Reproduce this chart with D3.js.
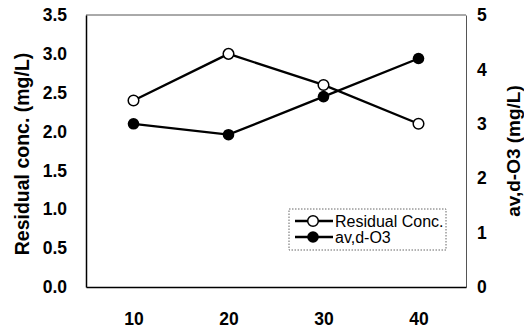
<!DOCTYPE html>
<html>
<head>
<meta charset="utf-8">
<script src="https://cdn.jsdelivr.net/npm/d3@7"></script>
<style>
  html, body { margin: 0; padding: 0; background: #fff; }
  svg { display: block; }
  text { font-family: "Liberation Sans", Arial, sans-serif; fill: #000; }
</style>
</head>
<body>
<svg id="chart" width="524" height="332"></svg>
<script>
// Sampling points (x axis)
const categories = [10, 20, 30, 40];
// Residual concentration, mg/L (left axis)
const residualConc = [2.4, 3.0, 2.6, 2.1];
// av,d-O3, mg/L (right axis)
const avdO3 = [3.0, 2.8, 3.5, 4.2];
// Axis tick values
const leftTicks = [0, 0.5, 1.0, 1.5, 2.0, 2.5, 3.0, 3.5];
const rightTicks = [0, 1, 2, 3, 4, 5];
const xTicks = [10, 20, 30, 40];
// Legend entries
const legendLabels = ["Residual Conc.", "av,d-O3"];

const svg = d3.select("#chart");
const plot = { left: 86, right: 466, top: 15, bottom: 287 };

const x = d3.scaleLinear().domain([5, 45]).range([plot.left, plot.right]);
const yL = d3.scaleLinear().domain([0, 3.5]).range([plot.bottom, plot.top]);
const yR = d3.scaleLinear().domain([0, 5]).range([plot.bottom, plot.top]);

// Frame: top and right edges light, left and bottom edges solid
svg.append("line").attr("x1", plot.left).attr("x2", plot.right)
  .attr("y1", plot.top).attr("y2", plot.top)
  .attr("stroke", "#555").attr("stroke-width", 1);

// Axes built with d3 axis generators, tick marks hidden
const leftAxis = d3.axisLeft(yL).tickValues(leftTicks)
  .tickFormat(d3.format(".1f")).tickSize(0).tickPadding(19);
const rightAxis = d3.axisRight(yR).tickValues(rightTicks)
  .tickFormat(d3.format("d")).tickSize(0).tickPadding(11);
const bottomAxis = d3.axisBottom(x).tickValues(xTicks)
  .tickFormat(d3.format("d")).tickSize(0).tickPadding(26);

function styleAxis(g, strokeColor, strokeWidth) {
  g.select(".domain").attr("stroke", strokeColor).attr("stroke-width", strokeWidth);
  g.selectAll("text")
    .style("font-family", '"Liberation Sans", Arial, sans-serif')
    .style("font-weight", "bold")
    .style("font-size", "17.5px")
    .attr("fill", "#000");
}

svg.append("g").attr("transform", `translate(${plot.right},0)`)
  .call(rightAxis).call(g => styleAxis(g, "#555", 1));
svg.append("g").attr("transform", `translate(${plot.left},0)`)
  .call(leftAxis).call(g => styleAxis(g, "#000", 1.5));
svg.append("g").attr("transform", `translate(0,${plot.bottom})`)
  .call(bottomAxis).call(g => styleAxis(g, "#000", 1.5));

// Axis titles
svg.append("text")
  .attr("transform", `translate(22,${(plot.top + plot.bottom) / 2 + 3}) rotate(-90)`)
  .attr("text-anchor", "middle").attr("dominant-baseline", "central")
  .style("font-weight", "bold").style("font-size", "19.5px")
  .text("Residual conc. (mg/L)");
svg.append("text")
  .attr("transform", `translate(513,${(plot.top + plot.bottom) / 2}) rotate(-90)`)
  .attr("text-anchor", "middle").attr("dominant-baseline", "central")
  .style("font-weight", "bold").style("font-size", "19px")
  .text("av,d-O3 (mg/L)");

// Series lines
const lineL = d3.line().x((d, i) => x(categories[i])).y(d => yL(d));
const lineR = d3.line().x((d, i) => x(categories[i])).y(d => yR(d));

svg.append("path").datum(avdO3).attr("d", lineR)
  .attr("fill", "none").attr("stroke", "#000").attr("stroke-width", 2.3);
svg.append("path").datum(residualConc).attr("d", lineL)
  .attr("fill", "none").attr("stroke", "#000").attr("stroke-width", 2.3);

// Markers
svg.append("g").selectAll("circle").data(avdO3).join("circle")
  .attr("cx", (d, i) => x(categories[i])).attr("cy", d => yR(d))
  .attr("r", 5.8).attr("fill", "#000");
svg.append("g").selectAll("circle").data(residualConc).join("circle")
  .attr("cx", (d, i) => x(categories[i])).attr("cy", d => yL(d))
  .attr("r", 5.3).attr("fill", "#fff").attr("stroke", "#000").attr("stroke-width", 1.5);

// Legend
const legend = svg.append("g").attr("transform", "translate(289,209)");
legend.append("rect").attr("x", 0).attr("y", 0).attr("width", 157).attr("height", 41)
  .attr("fill", "#fff").attr("stroke", "#666").attr("stroke-width", 1)
  .attr("stroke-dasharray", "1.5,1.5");
const rows = legend.selectAll("g.row").data(legendLabels).join("g")
  .attr("class", "row")
  .attr("transform", (d, i) => `translate(0,${12 + i * 16})`);
rows.append("line").attr("x1", 6).attr("x2", 44).attr("y1", 0).attr("y2", 0)
  .attr("stroke", "#000").attr("stroke-width", 2.3);
rows.append("circle").attr("cx", 24).attr("cy", 0)
  .attr("r", (d, i) => i === 0 ? 5.3 : 5.8)
  .attr("fill", (d, i) => i === 0 ? "#fff" : "#000")
  .attr("stroke", "#000").attr("stroke-width", (d, i) => i === 0 ? 1.5 : 0);
rows.append("text").attr("x", 46).attr("y", 0).attr("dominant-baseline", "central")
  .style("font-size", "16px")
  .text(d => d);
</script>
</body>
</html>
